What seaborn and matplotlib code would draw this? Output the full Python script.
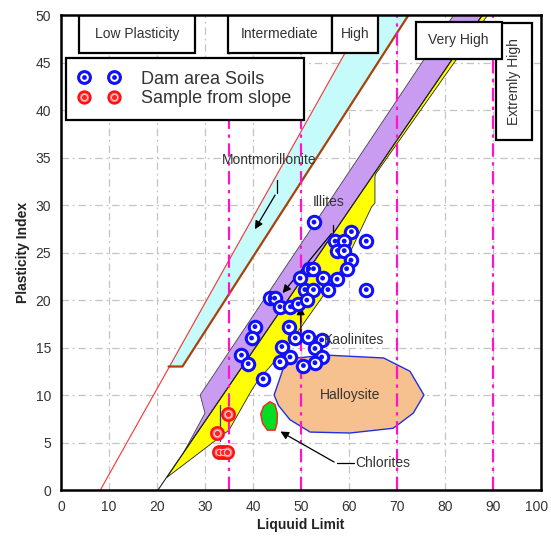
import numpy as np
import pandas as pd
import seaborn as sns
import matplotlib.pyplot as plt
import matplotlib.transforms as mtransforms
from matplotlib.patches import Polygon, Rectangle
from matplotlib.lines import Line2D
from matplotlib.legend_handler import HandlerTuple

# Messpunkte (Fliessgrenze LL, Plastizitaetsindex PI)
dam_ll = [52.7, 60.5, 63.6, 57.1, 59.0, 57.6, 59.0, 60.4, 59.5, 51.6, 52.6, 57.5,
          54.5, 49.8, 63.6, 50.8, 52.6, 55.6, 43.6, 44.5, 45.6, 47.8, 49.4, 51.2,
          40.4, 39.7, 47.4, 48.8, 51.5, 54.3, 37.6, 39.0, 46.0, 47.7, 45.6, 52.9,
          54.3, 52.9, 50.5, 42.1]
dam_pi = [28.2, 27.2, 26.2, 26.2, 26.2, 25.2, 25.2, 24.2, 23.3, 23.3, 23.3, 22.2,
          22.3, 22.3, 21.1, 21.1, 21.1, 21.1, 20.2, 20.2, 19.3, 19.3, 19.6, 20.0,
          17.2, 16.0, 17.2, 16.0, 16.1, 15.8, 14.2, 13.3, 15.1, 14.0, 13.5, 14.9,
          14.0, 13.4, 13.1, 11.7]
slope_ll = [32.6, 34.7, 33.0, 33.8, 34.6]
slope_pi = [6.0, 8.0, 4.0, 4.0, 4.0]

# Linien und Bereiche im Diagramm
u_line_ll = [8.2, 63.6]
u_line_pi = [0, 50]
a_line_ll = [20.2, 87.8]
a_line_pi = [0, 50]
braun_ll = [22.4, 25.3, 72.4]
braun_pi = [13, 13, 50]
cyan_ll = [22.4, 25.3, 72.4, 63.6]
cyan_pi = [13, 13, 50, 50]
lila_ll = [25.5, 87.8, 81.8, 76.0, 29.0, 30.0]
lila_pi = [3.9, 50, 50, 45.6, 10.0, 8.1]
gelb_ll = [22.0, 87.8, 88.9, 65.6, 65.4, 65.4, 64.7, 58.8, 54.0, 47.0, 41.0, 39.7, 35.0]
gelb_pi = [1.3, 50, 50, 33.3, 33.0, 30.2, 29.8, 23.5, 20.0, 15.0, 11.5, 10.5, 6.3]
hall_ll = [44.4, 46.3, 49.1, 55.3, 67.2, 72.7, 75.6, 73.4, 69.2, 60.2, 51.9, 47.7, 45.3]
hall_pi = [10.0, 12.8, 13.9, 14.2, 13.9, 12.5, 10.0, 8.1, 6.5, 6.0, 6.1, 7.4, 8.9]
chlor_ll = [43.5, 44.6, 45.1, 45.0, 44.6, 43.0, 42.0, 41.6, 42.2]
chlor_pi = [9.3, 9.0, 8.0, 7.0, 6.3, 6.3, 7.0, 8.0, 8.8]
grenzen_ll = [35, 50, 70, 90]

# Beschriftungskaesten: (text, x0, x1, y0, y1, drehung)
kaesten = [
    ("Low Plasticity", 3.8, 27.9, 46.0, 50.0, 0),
    ("Intermediate", 34.7, 56.4, 46.0, 50.0, 0),
    ("High", 56.4, 66.1, 46.0, 50.0, 0),
    ("Extremly High", 90.6, 98.1, 36.8, 49.2, 90),
    ("Very High", 73.9, 91.8, 45.4, 49.3, 0),
]

sns.set_style("white")
plt.rcParams['font.family'] = ['Liberation Sans', 'DejaVu Sans']

fig = plt.figure(figsize=(5.51, 5.36), dpi=100)
ax = fig.add_axes([0.1107, 0.0858, 0.8712, 0.8862])
ax.set_xlim(0, 100)
ax.set_ylim(0, 50)

# Gitter
for x in range(10, 100, 10):
    ax.axvline(x, color='#c4c4c4', lw=0.9, ls=(0, (6, 3, 1.5, 3)), zorder=0)
for y in range(5, 50, 5):
    ax.axhline(y, color='#c4c4c4', lw=0.9, ls=(0, (6, 3, 1.5, 3)), zorder=0)

# Bereiche
ax.add_patch(Polygon(np.column_stack([cyan_ll, cyan_pi]), closed=True,
                     facecolor='#c6fbfb', edgecolor='none', zorder=1))
ax.add_patch(Polygon(np.column_stack([lila_ll, lila_pi]), closed=True,
                     facecolor='#c99cf2', edgecolor='#444444', lw=0.6, zorder=2))
ax.add_patch(Polygon(np.column_stack([gelb_ll, gelb_pi]), closed=True,
                     facecolor='#ffff00', edgecolor='#222222', lw=0.6, zorder=3))
ax.add_patch(Polygon(np.column_stack([hall_ll, hall_pi]), closed=True,
                     facecolor='#f7c18f', edgecolor='#2030e0', lw=1.0, zorder=3))
ax.add_patch(Polygon(np.column_stack([chlor_ll, chlor_pi]), closed=True,
                     facecolor='#00dd22', edgecolor='#ff2020', lw=1.0, zorder=3))

ax.plot(u_line_ll, u_line_pi, color='#ff3030', lw=0.8, zorder=4)
ax.plot(braun_ll, braun_pi, color='#a8420c', lw=1.6, zorder=4)
ax.plot(a_line_ll, a_line_pi, color='#222222', lw=0.8, zorder=4)

for x in grenzen_ll:
    ax.axvline(x, color='#ff14c8', lw=1.6, ls=(0, (6, 2.5, 1.5, 2.5)), zorder=5)

# kleine blaue Linie bei den Hangproben
ax.plot([33.1, 33.1], [5.2, 9.0], color='#2030e0', lw=0.9, zorder=5)

# Messpunkte
df_dam = pd.DataFrame({'LL': dam_ll, 'PI': dam_pi})
df_slope = pd.DataFrame({'LL': slope_ll, 'PI': slope_pi})
sns.scatterplot(data=df_dam, x='LL', y='PI', ax=ax, s=80, marker='o',
                facecolor='white', edgecolor='#1010ff', linewidth=2.2, zorder=7)
sns.scatterplot(data=df_dam, x='LL', y='PI', ax=ax, s=12, marker='o',
                color='#1010ff', edgecolor='none', zorder=8)
sns.scatterplot(data=df_slope, x='LL', y='PI', ax=ax, s=80, marker='o',
                facecolor='#ff8080', edgecolor='#ff1010', linewidth=1.8, zorder=7)
sns.scatterplot(data=df_slope, x='LL', y='PI', ax=ax, s=20, marker='o',
                facecolor='#ff2020', edgecolor='#ffc8c8', linewidth=0.8, zorder=8)

# Beschriftungen mit Pfeilen
txt = dict(fontsize=10, color='#333333', zorder=9)
pfeil = dict(arrowstyle='-|>', color='black', lw=0.9, mutation_scale=12)

ax.text(33.5, 34.7, "Montmorillonite", va='center', ha='left', **txt)
ax.plot([44.9, 44.9], [32.6, 31.3], color='black', lw=0.9, zorder=6)
ax.annotate("", xy=(40.1, 27.2), xytext=(44.9, 31.3), arrowprops=pfeil, zorder=6)

ax.text(52.4, 30.3, "Illites", va='center', ha='left', **txt)
ax.plot([56.7, 56.7], [27.9, 27.2], color='black', lw=0.9, zorder=6)
ax.annotate("", xy=(45.8, 20.5), xytext=(56.7, 27.2), arrowprops=pfeil, zorder=6)

ax.text(54.8, 15.8, "Kaolinites", va='center', ha='left', **txt)
ax.plot([54.6, 50.0], [15.8, 15.8], color='black', lw=0.9, zorder=6)
ax.annotate("", xy=(49.9, 19.6), xytext=(50.0, 15.8), arrowprops=pfeil, zorder=6)

ax.text(60.2, 10.0, "Halloysite", va='center', ha='center', **txt)

ax.text(61.2, 2.8, "Chlorites", va='center', ha='left', **txt)
ax.plot([61.0, 57.4], [2.8, 2.8], color='black', lw=0.9, zorder=6)
ax.annotate("", xy=(45.2, 6.3), xytext=(57.4, 2.8), arrowprops=pfeil, zorder=6)

# Kaesten oben
for text, x0, x1, y0, y1, rot in kaesten:
    ax.add_patch(Rectangle((x0, y0), x1 - x0, y1 - y0, facecolor='white',
                           edgecolor='black', lw=1.6, zorder=10))
    ax.text((x0 + x1) / 2, (y0 + y1) / 2, text, ha='center', va='center',
            rotation=rot, fontsize=10, color='#333333', zorder=11)

# Legende
h_dam = (Line2D([], [], ls='none', marker='o', ms=8.5, mfc='white', mec='#1010ff', mew=2.2),
         Line2D([], [], ls='none', marker='o', ms=3.4, mfc='#1010ff', mec='none'))
h_slope = (Line2D([], [], ls='none', marker='o', ms=8.5, mfc='#ff8080', mec='#ff1010', mew=1.8),
           Line2D([], [], ls='none', marker='o', ms=4.4, mfc='#ff2020', mec='#ffc8c8', mew=0.8))
leg = ax.legend([h_dam, h_slope], ["Dam area Soils", "Sample from slope"],
                handler_map={tuple: HandlerTuple(ndivide=1)}, numpoints=2,
                loc='upper left', bbox_to_anchor=(0.01, 0.91), borderaxespad=0,
                fontsize=13, handlelength=2.27, handletextpad=1.15, borderpad=0.72,
                labelspacing=0.15, fancybox=False, framealpha=1, edgecolor='black')
leg.get_frame().set_linewidth(1.6)
leg.set_zorder(12)
for t in leg.get_texts():
    t.set_color('#333333')

ax.set_xticks(range(0, 101, 10))
ax.set_yticks(range(0, 51, 5))
ax.tick_params(length=0, labelsize=10, labelcolor='#333333', pad=7)
# letzte Beschriftung etwas nach links, damit "100" nicht abgeschnitten wird
lab = ax.xaxis.get_major_ticks()[-1].label1
lab.set_transform(lab.get_transform() + mtransforms.ScaledTranslation(-4 / 100, 0, fig.dpi_scale_trans))
ax.set_xlabel("Liquuid Limit", fontsize=10, fontweight='bold', color='#222222', labelpad=3)
ax.set_ylabel("Plasticity Index", fontsize=10, fontweight='bold', color='#222222', labelpad=4)
for s in ax.spines.values():
    s.set_color('black')
    s.set_linewidth(1.8)
    s.set_zorder(13)

fig.savefig("out.png", dpi=100)
